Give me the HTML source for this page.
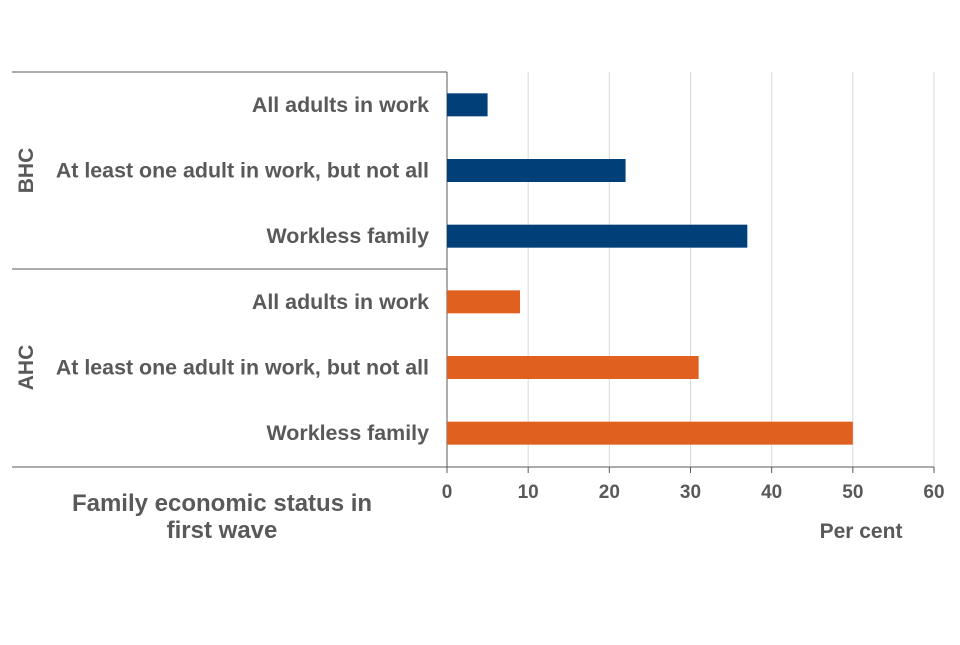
<!DOCTYPE html>
<html><head><meta charset="utf-8"><style>
body{margin:0;background:#fff;}
svg text{font-family:"Liberation Sans",Arial,sans-serif;font-weight:bold;fill:#595959;}
</style></head><body>
<svg id="chart" width="960" height="640">
</svg>
<script>
const categories=["All adults in work","At least one adult in work, but not all","Workless family"];
const groups=["BHC","AHC"];
const bhcValues=[5,22,37];
const ahcValues=[9,31,50];
const ticks=[0,10,20,30,40,50,60];
const svg=document.getElementById('chart');
const NS='http://www.w3.org/2000/svg';
const x0=447,x1=934,xMax=60;
const xs=v=>x0+(x1-x0)*v/xMax;
const topY=72,groupH=197,rowH=groupH/3;
function el(t,a,txt){const e=document.createElementNS(NS,t);for(const k in a)e.setAttribute(k,a[k]);if(txt!==undefined)e.textContent=txt;svg.appendChild(e);return e;}
ticks.forEach(t=>{if(t>0){const g=el('line',{x1:xs(t),x2:xs(t),y1:topY,y2:467,stroke:'#d9d9d9','stroke-width':1});

}
const tk=el('line',{x1:xs(t),x2:xs(t),y1:467,y2:473,stroke:'#595959'});


const lb=el('text',{x:xs(t),y:498,'text-anchor':'middle','font-size':19},t);

});
[topY,topY+groupH].forEach((y,i)=>{const l=el('line',{x1:12,x2:447,y1:y,y2:y,stroke:'#595959'});

});
const ax=el('line',{x1:12,x2:934,y1:467,y2:467,stroke:'#595959'});


const ay=el('line',{x1:447,x2:447,y1:topY,y2:467,stroke:'#595959'});


const series=[bhcValues,ahcValues],colors=['#003f78','#e06020'];
groups.forEach((g,gi)=>{
 const gy=topY+gi*groupH;
 const gl=el('text',{x:0,y:0,'text-anchor':'middle','font-size':21,transform:`translate(33,${gy+groupH/2}) rotate(-90)`},g);
 
 
 categories.forEach((c,ci)=>{
  const cy=gy+rowH*(ci+0.5);
  const t=el('text',{x:429,y:cy+7,'text-anchor':'end','font-size':21.4},c);
  
  
  const b=el('rect',{x:x0,y:cy-11.5,width:xs(series[gi][ci])-x0,height:23,fill:colors[gi]});
  
  
 });
});
const t1=el('text',{x:222,y:511,'text-anchor':'middle','font-size':24},'Family economic status in');


const t2=el('text',{x:222,y:538,'text-anchor':'middle','font-size':24},'first wave');


const xt=el('text',{x:861,y:538,'text-anchor':'middle','font-size':21},'Per cent');


</script>
</body></html>
